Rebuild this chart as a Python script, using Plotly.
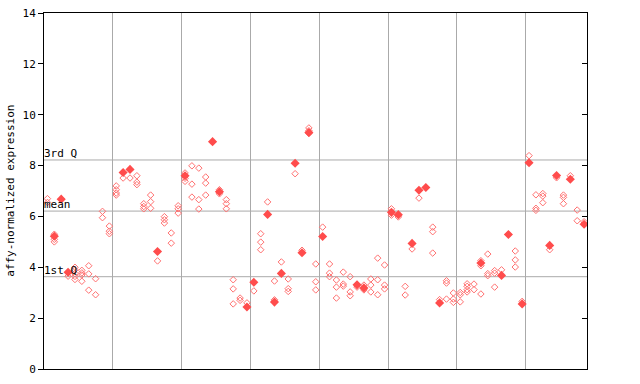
import plotly.graph_objects as go

# Per-sample-column expression values (hollow markers) and highlighted values (filled)
hollow = [
    [6.7, 6.55], [5.3, 5.1, 5.0], [6.68], [3.65], [4.0, 3.9, 3.75, 3.64, 3.52],
    [3.88, 3.78, 3.7, 3.45], [4.06, 3.74, 3.1], [3.55, 2.92], [6.2, 5.95], [5.62, 5.42, 5.32],
    [7.2, 7.05, 6.92, 6.84], [7.51], [7.51], [7.6, 7.35, 7.25], [6.5, 6.39, 6.3],
    [6.84, 6.58, 6.32], [4.25], [5.99, 5.87, 5.74], [5.35, 4.95], [6.42, 6.3, 6.13],
    [7.71, 7.5, 7.38], [7.99, 7.27, 6.76], [7.9, 6.66, 6.29], [7.55, 7.31, 6.84], [8.94],
    [7.05, 6.89], [6.66, 6.5, 6.3], [3.51, 3.15, 2.56], [2.79, 2.7], [2.6],
    [3.07], [5.32, 4.99, 4.69], [6.57], [3.46, 2.72], [4.21],
    [3.54, 3.16, 3.05], [7.68], [4.67], [9.48, 9.37, 9.26], [4.13, 3.43, 3.11],
    [5.58], [4.13, 3.77, 3.63], [3.5, 3.22, 2.79], [3.81, 3.34, 3.26], [3.63, 3.03, 2.88],
    [3.22], [3.3, 3.11], [3.54, 3.3, 3.03], [4.36, 3.51, 2.92], [4.09, 3.3, 3.15],
    [6.3, 6.05], [5.98], [3.25, 2.91], [4.72], [6.72],
    [7.14], [5.58, 5.4, 4.56], [2.73], [3.47, 3.38, 2.75], [2.99, 2.75, 2.62],
    [3.01, 2.92, 2.64], [3.35, 3.25, 3.12, 3.03], [3.34, 3.12], [4.26, 4.06, 2.95], [4.52, 3.75, 3.67],
    [3.87, 3.77, 3.22], [3.9], [5.29], [4.64, 4.29, 4.01], [2.66],
    [8.39], [6.85, 6.32, 6.24], [6.9, 6.8, 6.54], [4.69], [7.52],
    [6.84, 6.75, 6.5], [7.6], [6.25, 5.83], [5.79],
]

filled = [
    None, 5.22, 6.68, 3.8, None, None, None, None, None, None,
    None, 7.73, 7.85, None, None, None, 4.62, None, None, None,
    7.6, None, None, None, 8.94, 6.97, None, None, None, 2.44,
    3.41, None, 6.08, 2.63, 3.76, None, 8.09, 4.57, 9.3, None,
    5.21, None, None, None, None, 3.31, 3.19, None, None, None,
    6.16, 6.07, None, 4.94, 7.03, 7.14, None, 2.6, None, None,
    None, None, None, 4.17, None, None, 3.68, 5.29, None, 2.56,
    8.11, None, None, 4.86, 7.61, None, 7.46, None, 5.69,
]

ref_lines = {"3rd Q": 8.22, "mean": 6.21, "1st Q": 3.63}
y_ticks = [0, 2, 4, 6, 8, 10, 12, 14]
group_bounds = [10, 20, 30, 40, 50, 60, 70]

xh, yh = [], []
for i, vals in enumerate(hollow):
    for v in vals:
        xh.append(i + 0.5)
        yh.append(v)
xf, yf = [], []
for i, v in enumerate(filled):
    if v is not None:
        xf.append(i + 0.5)
        yf.append(v)

MONO = "DejaVu Sans Mono"
fig = go.Figure()
fig.add_trace(go.Scatter(
    x=xh, y=yh, mode="markers", hoverinfo="skip",
    marker=dict(symbol="diamond-open", size=5, color="#ff7070", line=dict(width=1, color="#ff7070")),
))
fig.add_trace(go.Scatter(
    x=xf, y=yf, mode="markers", hoverinfo="skip",
    marker=dict(symbol="diamond", size=7, color="#ff4c4c", line=dict(width=0)),
))
fig.add_trace(go.Scatter(x=[None], y=[None], yaxis="y2", showlegend=False))

shapes = []
for name, v in ref_lines.items():
    shapes.append(dict(type="line", xref="paper", x0=0, x1=1, yref="y", y0=v, y1=v,
                       line=dict(color="#aaaaaa", width=1), layer="below"))

annotations = []
for name, v in ref_lines.items():
    annotations.append(dict(text=name, xref="paper", x=0, xanchor="left", yref="y", y=v,
                            yanchor="bottom", showarrow=False, yshift=-2, xshift=-2,
                            font=dict(family=MONO, size=11, color="black")))
annotations.append(dict(text="affy-normalized expression", xref="paper", yref="paper",
                        x=-0.063, y=0.5, textangle=-90, showarrow=False,
                        xanchor="center", yanchor="middle",
                        font=dict(family=MONO, size=11, color="black")))

x_right = (587.3 - 44.3) / 6.88

fig.update_layout(
    width=640, height=384,
    margin=dict(l=44, r=53, t=13, b=15, autoexpand=False),
    paper_bgcolor="white", plot_bgcolor="white",
    showlegend=False,
    shapes=shapes, annotations=annotations,
    xaxis=dict(range=[0, x_right], tickvals=group_bounds, showticklabels=False, ticks="",
               showgrid=True, gridcolor="#aaaaaa", gridwidth=1, zeroline=False, automargin=False,
               showline=True, linecolor="black", linewidth=1, mirror=True, fixedrange=True),
    yaxis=dict(range=[0, 14], tickvals=y_ticks, ticks="outside", ticklen=5, tickcolor="black",
               showgrid=False, zeroline=False, showline=True, linecolor="black", linewidth=1,
               mirror=True, automargin=False, tickfont=dict(family=MONO, size=11, color="black")),
    yaxis2=dict(range=[0, 14], overlaying="y", side="right", tickvals=y_ticks[1:-1],
                ticks="inside", ticklen=5, tickcolor="black", showticklabels=False, automargin=False,
                showgrid=False, zeroline=False, showline=False),
)

fig.write_html("out.html")
